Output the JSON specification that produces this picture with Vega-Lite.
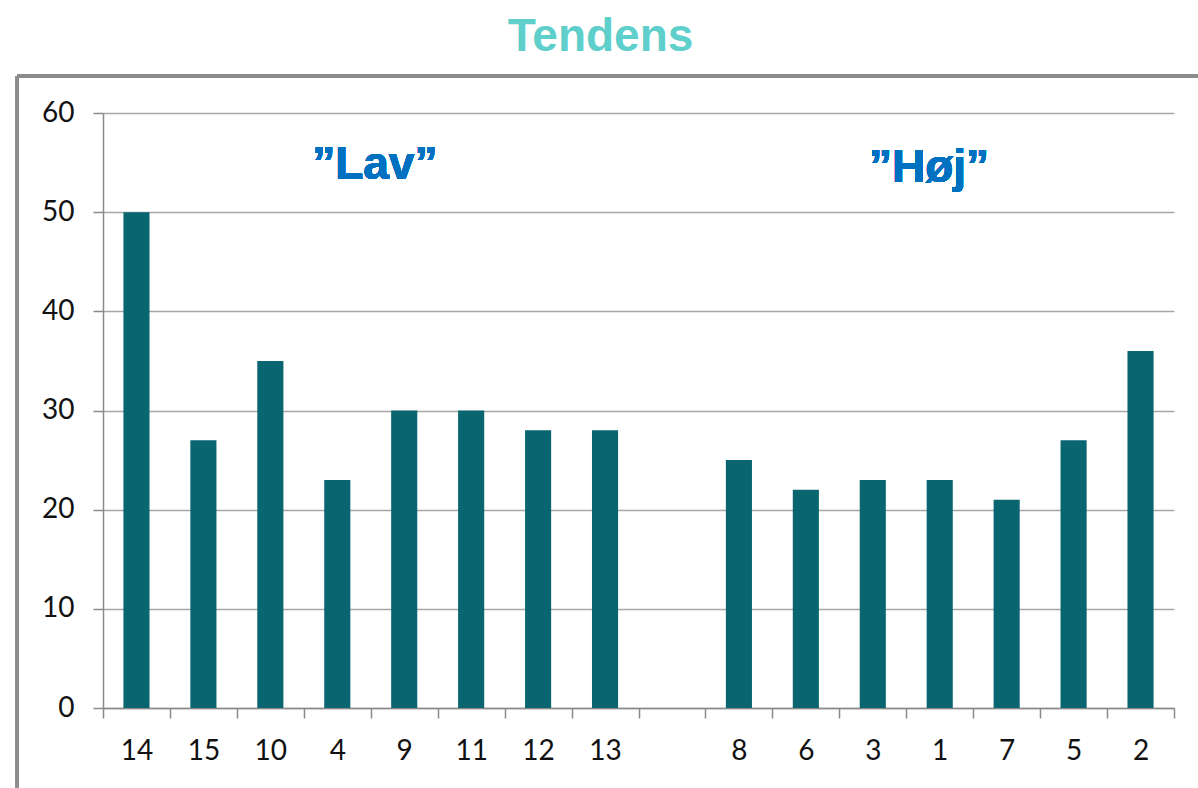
{
  "$schema": "https://vega.github.io/schema/vega-lite/v6.json",
  "width": 1071,
  "height": 595,
  "autosize": {"type": "none"},
  "padding": {"left": 103, "top": 113, "right": 24, "bottom": 80},
  "background": "white",
  "title": {
    "text": "Tendens",
    "font": "Liberation Sans",
    "fontSize": 46,
    "fontWeight": "bold",
    "color": "#5ECFCA",
    "anchor": "middle",
    "dx": -38,
    "dy": 46,
    "baseline": "alphabetic",
    "offset": 24
  },
  "config": {
    "view": {"stroke": null},
    "axis": {
      "labelFont": "Lato",
      "labelFontSize": 28,
      "labelColor": "#111111",
      "domainColor": "#8a8a8a",
      "domainWidth": 1.5,
      "tickColor": "#8a8a8a",
      "tickWidth": 1.5,
      "tickSize": 10,
      "gridColor": "#a6a6a6",
      "gridWidth": 1.5
    }
  },
  "data": {
    "values": [
      {"nr": "14", "value": 50},
      {"nr": "15", "value": 27},
      {"nr": "10", "value": 35},
      {"nr": "4", "value": 23},
      {"nr": "9", "value": 30},
      {"nr": "11", "value": 30},
      {"nr": "12", "value": 28},
      {"nr": "13", "value": 28},
      {"nr": "8", "value": 25},
      {"nr": "6", "value": 22},
      {"nr": "3", "value": 23},
      {"nr": "1", "value": 23},
      {"nr": "7", "value": 21},
      {"nr": "5", "value": 27},
      {"nr": "2", "value": 36}
    ]
  },
  "resolve": {"scale": {"x": "independent"}},
  "layer": [
    {
      "layer": [
        {
          "mark": {"type": "bar", "color": "#096570", "width": {"band": 0.39}},
          "encoding": {
            "x": {
              "field": "nr",
              "type": "nominal",
              "sort": null,
              "scale": {
                "domain": ["14", "15", "10", "4", "9", "11", "12", "13", " ", "8", "6", "3", "1", "7", "5", "2"],
                "paddingInner": 0,
                "paddingOuter": 0
              },
              "axis": {
                "title": null,
                "labelAngle": 0,
                "tickBand": "extent",
                "grid": false,
                "labelPadding": 19
              }
            },
            "y": {
              "field": "value",
              "type": "quantitative",
              "scale": {"domain": [0, 60], "nice": false},
              "axis": {
                "title": null,
                "values": [0, 10, 20, 30, 40, 50, 60],
                "grid": true,
                "labelPadding": 19
              }
            }
          }
        },
        {
          "mark": {"type": "text", "font": "Liberation Sans", "fontSize": 46, "fontWeight": "bold", "color": "#0070C0", "baseline": "alphabetic", "align": "center"},
          "encoding": {
            "x": {"datum": "9", "type": "nominal", "bandPosition": 0.06},
            "y": {"datum": 53.3, "type": "quantitative"},
            "text": {"value": "”Lav”"}
          }
        },
        {
          "mark": {"type": "text", "font": "Liberation Sans", "fontSize": 46, "fontWeight": "bold", "color": "#0070C0", "baseline": "alphabetic", "align": "center"},
          "encoding": {
            "x": {"datum": "1", "type": "nominal", "bandPosition": 0.34},
            "y": {"datum": 53.0, "type": "quantitative"},
            "text": {"value": "”Høj”"}
          }
        }
      ]
    },
    {
      "layer": [
        {
          "mark": {"type": "rule", "color": "#8c8c8c", "strokeWidth": 3},
          "encoding": {
            "x": {"datum": -0.08, "type": "quantitative", "scale": {"domain": [0, 1], "nice": false, "zero": false}, "axis": null},
            "y": {"datum": 63.73, "type": "quantitative"},
            "y2": {"datum": -12}
          }
        },
        {
          "mark": {"type": "rule", "color": "#8c8c8c", "strokeWidth": 3},
          "encoding": {
            "x": {"datum": -0.08, "type": "quantitative", "axis": null},
            "x2": {"datum": 1.2},
            "y": {"datum": 63.73, "type": "quantitative"}
          }
        }
      ]
    }
  ]
}
